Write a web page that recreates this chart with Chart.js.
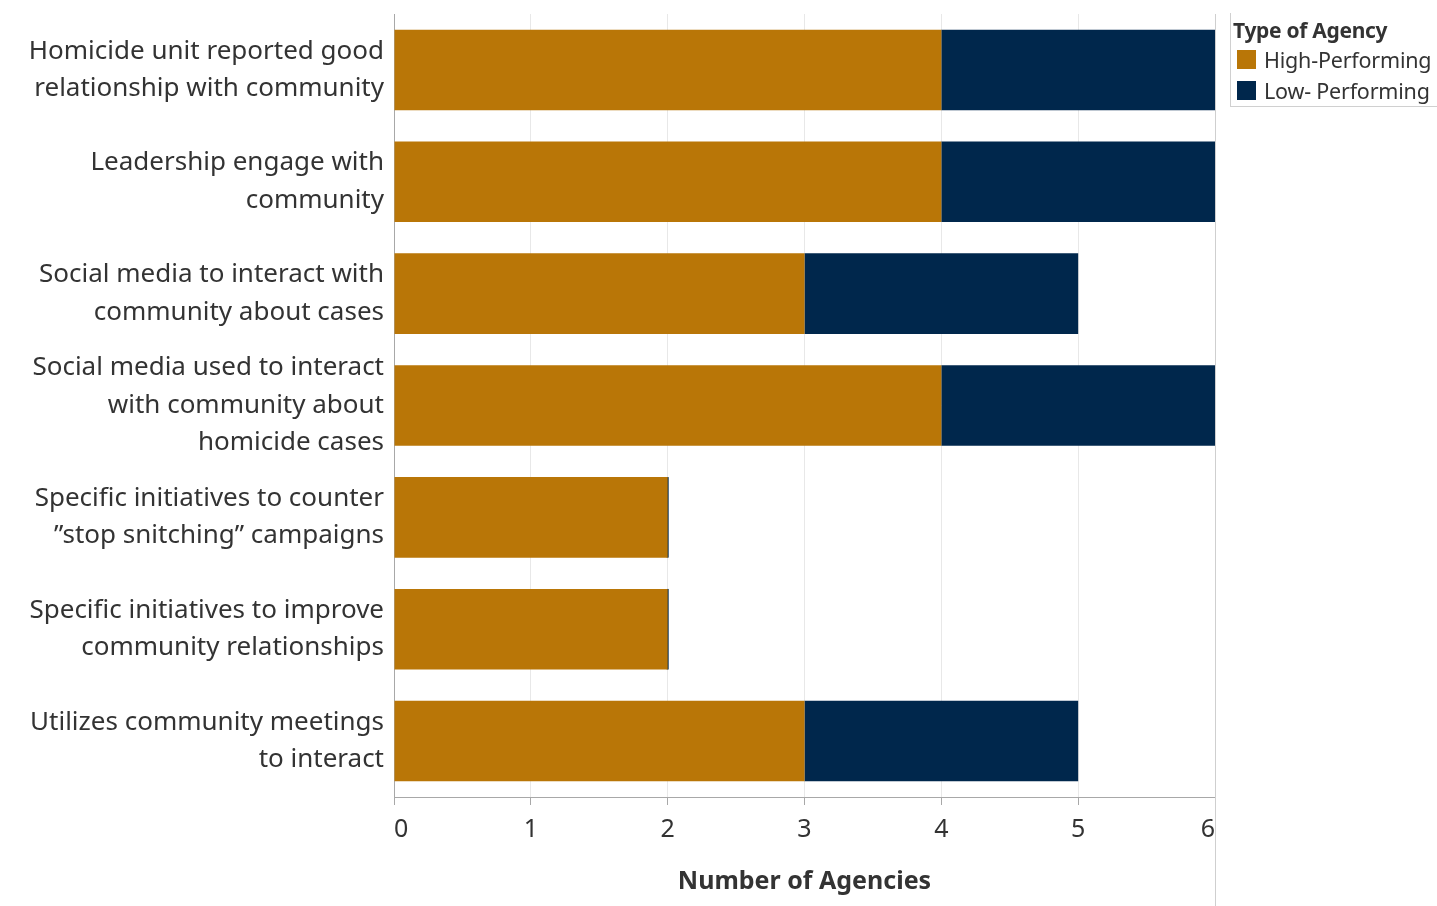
<!DOCTYPE html>
<html>
<head>
<meta charset="utf-8">
<script src="https://cdn.jsdelivr.net/npm/chart.js@4/dist/chart.umd.min.js"></script>
<style>
  html, body { margin: 0; padding: 0; background: #fff; }
  #wrap { position: relative; width: 1437px; height: 906px; }
  #legend {
    position: absolute; left: 1230px; top: 13px; width: 207px; height: 94px;
    border-left: 1px solid #d0d0d0; border-bottom: 1px solid #d0d0d0;
    font-family: "Noto Sans", sans-serif; color: #333; box-sizing: border-box;
    white-space: nowrap; overflow: hidden;
  }
  #legend .title { font-weight: bold; font-size: 21px; margin: 3px 0 0 2px; line-height: 28px; letter-spacing: -0.3px; }
  #legend .item { display: flex; align-items: center; font-size: 21.5px; line-height: 31px; margin-left: 6px; letter-spacing: -0.2px; }
  #legend .box { width: 19px; height: 19px; margin-right: 8px; flex: none; }
</style>
</head>
<body>
<div id="wrap">
  <canvas id="chart" width="1437" height="906"></canvas>
  <div id="legend"></div>
</div>
<script>
const categories = [
  ["Homicide unit reported good", "relationship with community"],
  ["Leadership engage with", "community"],
  ["Social media to interact with", "community about cases"],
  ["Social media used to interact", "with community about", "homicide cases"],
  ["Specific initiatives to counter", "\u201Dstop snitching\u201D campaigns"],
  ["Specific initiatives to improve", "community relationships"],
  ["Utilizes community meetings", "to interact"]
];
const highPerforming = [4, 4, 3, 4, 2, 2, 3];
const lowPerforming = [2, 2, 2, 2, 0, 0, 2];
const xTicks = [0, 1, 2, 3, 4, 5, 6];

const textColor = "#333";
const fontFamily = "'Noto Sans', sans-serif";

// pane border on the right of the plot, running to the bottom
const paneLine = {
  id: "paneLine",
  afterDraw(chart) {
    const { ctx, chartArea } = chart;
    ctx.save();
    ctx.strokeStyle = "#cfcfcf";
    ctx.lineWidth = 1;
    ctx.beginPath();
    ctx.moveTo(Math.round(chartArea.right) + 0.5, chartArea.top);
    ctx.lineTo(Math.round(chartArea.right) + 0.5, chart.height);
    ctx.stroke();
    ctx.restore();
  }
};

const chart = new Chart(document.getElementById("chart"), {
  type: "bar",
  data: {
    labels: categories,
    datasets: [
      {
        label: "High-Performing",
        data: highPerforming,
        backgroundColor: "#b97607",
        barPercentage: 0.72,
        categoryPercentage: 1
      },
      {
        label: "Low- Performing",
        data: lowPerforming,
        backgroundColor: "#00274c",
        minBarLength: 2,
        barPercentage: 0.72,
        categoryPercentage: 1
      }
    ]
  },
  options: {
    indexAxis: "y",
    responsive: false,
    animation: false,
    layout: { padding: { top: 14, right: 222, left: 0, bottom: 0 } },
    plugins: {
      legend: { display: false },
      tooltip: { enabled: false }
    },
    scales: {
      x: {
        stacked: true,
        min: 0,
        max: 6,
        afterBuildTicks: (scale) => { scale.ticks = xTicks.map(v => ({ value: v })); },
        afterFit: (scale) => { scale.height = 109; },
        grid: { color: "#e8e8e8", tickColor: "#a8a8a8", tickLength: 8 },
        border: { color: "#a8a8a8" },
        ticks: {
          align: "inner",
          padding: 10,
          color: textColor,
          font: { family: fontFamily, size: 25 }
        },
        title: {
          display: true,
          text: "Number of Agencies",
          color: textColor,
          font: { family: fontFamily, size: 25, weight: "bold" },
          padding: { top: 0, bottom: 9 }
        }
      },
      y: {
        stacked: true,
        afterFit: (scale) => {
          scale.width = 394;
          scale.paddingTop = 0;
          scale.paddingBottom = 0;
        },
        grid: { display: false, drawTicks: false },
        border: { color: "#a8a8a8" },
        ticks: {
          autoSkip: false,
          padding: 10,
          color: textColor,
          font: { family: fontFamily, size: 26, lineHeight: 1.44 }
        }
      }
    }
  },
  plugins: [paneLine]
});

// legend built from the chart's datasets
const legend = document.getElementById("legend");
legend.innerHTML = '<div class="title">Type of Agency</div>' +
  chart.data.datasets.map(ds =>
    `<div class="item"><span class="box" style="background:${ds.backgroundColor}"></span>${ds.label}</div>`
  ).join("");
</script>
</body>
</html>
